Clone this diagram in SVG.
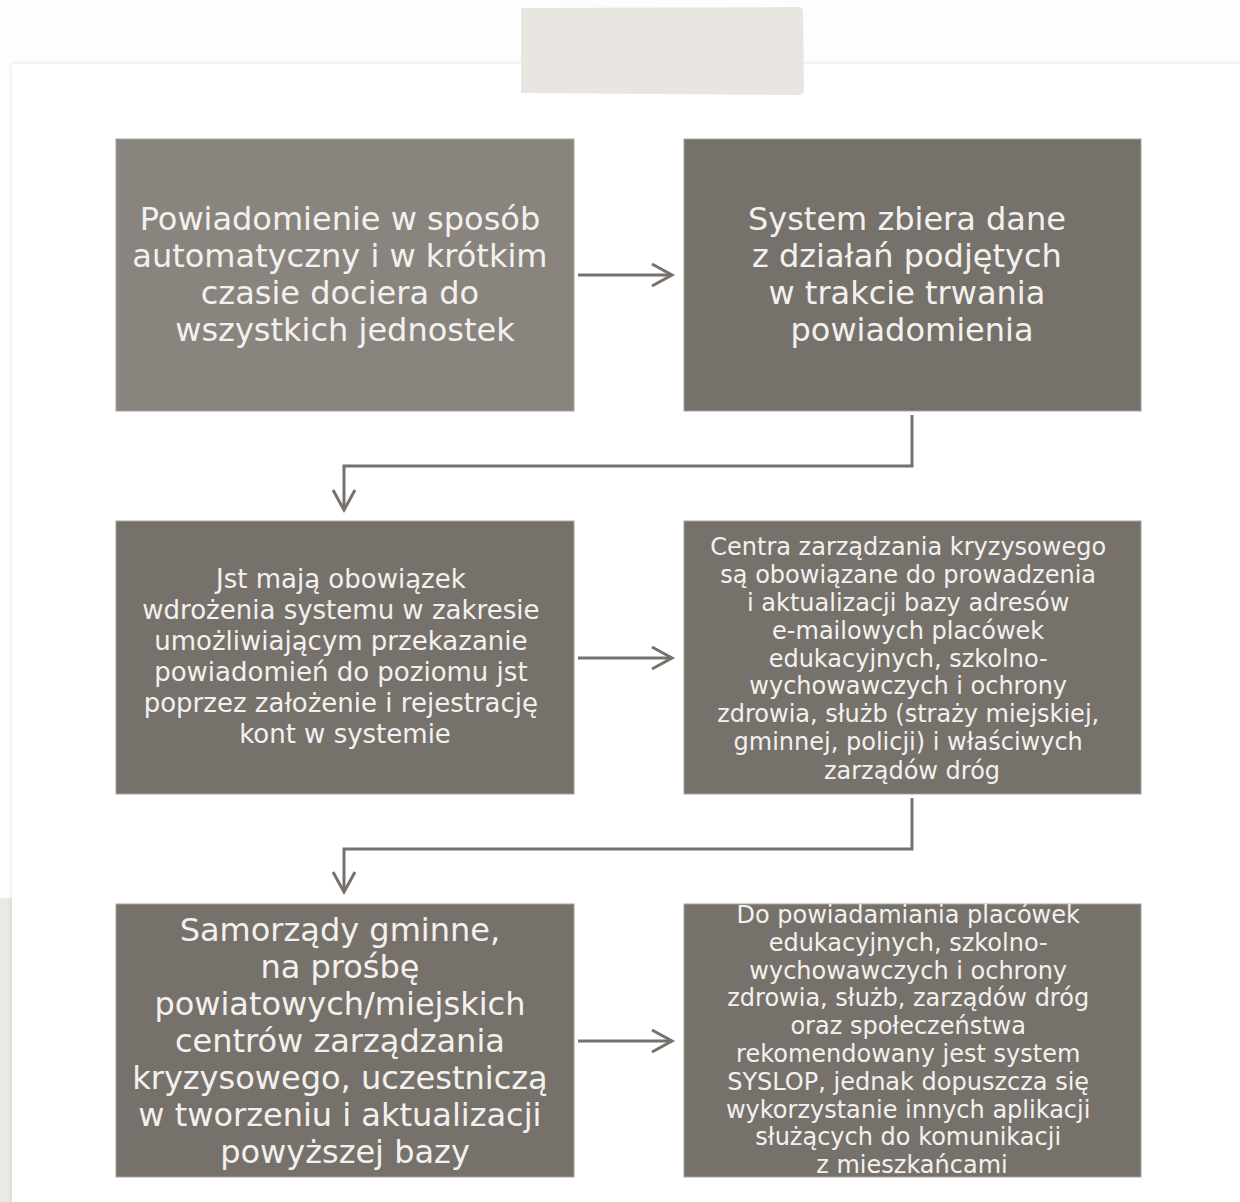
<svg xmlns="http://www.w3.org/2000/svg" width="1240" height="1202" viewBox="0 0 1240 1202">
  <defs>
    <marker id="chev" markerUnits="userSpaceOnUse" viewBox="-24 -14 28 28" markerWidth="28" markerHeight="28" refX="0" refY="0" orient="auto" overflow="visible">
      <path d="M-20,-11 L0,0 L-20,11" fill="none" stroke="#77716b" stroke-width="3" stroke-linejoin="miter"/>
    </marker>
    <filter id="sh" x="-2%" y="-2%" width="104%" height="104%">
      <feDropShadow dx="0" dy="0" stdDeviation="2" flood-color="#000" flood-opacity="0.12"/>
    </filter>
  </defs>
  <style>
    .box { fill: #77716b; stroke: #a8a39e; stroke-width: 1; }
    .box1 { fill: #8a847f; }
    .t { font-family: "DejaVu Sans", "Noto Sans", sans-serif; fill: #f3f1ef; text-anchor: middle; }
    .big { font-size: 32px; }
    .mid { font-size: 26px; }
    .sm { font-size: 24px; }
    .conn { fill: none; stroke: #77716b; stroke-width: 3; marker-end: url(#chev); }
  </style>

  <rect x="0" y="0" width="1240" height="1202" fill="#fdfdfd"/>
  <rect x="0" y="898" width="13" height="304" fill="#ebe9e6"/>
  <rect x="12" y="64" width="1240" height="1160" fill="#ffffff" filter="url(#sh)"/>
  <path d="M521,8 L800,7 L803,10 L804,92 L800,95 L521,93 Z" fill="#e9e5e1"/>

  <g id="connectors">
    <path class="conn" d="M578,275 H672"/>
    <path class="conn" d="M912,415 V466 H344 V510"/>
    <path class="conn" d="M578,658 H672"/>
    <path class="conn" d="M912,798 V849 H344 V892"/>
    <path class="conn" d="M578,1041 H672"/>
  </g>

  <g id="node1">
    <rect class="box box1" x="116" y="139" width="458" height="272"/>
    <text class="t big">
      <tspan x="345" y="230">Powiadomienie w sposób</tspan>
      <tspan x="345" y="267">automatyczny i w krótkim</tspan>
      <tspan x="345" y="304">czasie dociera do</tspan>
      <tspan x="345" y="341">wszystkich jednostek</tspan>
    </text>
  </g>

  <g id="node2">
    <rect class="box" x="684" y="139" width="457" height="272"/>
    <text class="t big">
      <tspan x="912" y="230">System zbiera dane</tspan>
      <tspan x="912" y="267">z działań podjętych</tspan>
      <tspan x="912" y="304">w trakcie trwania</tspan>
      <tspan x="912" y="341">powiadomienia</tspan>
    </text>
  </g>

  <g id="node3">
    <rect class="box" x="116" y="521" width="458" height="273"/>
    <text class="t mid">
      <tspan x="345" y="588">Jst mają obowiązek</tspan>
      <tspan x="345" y="619">wdrożenia systemu w zakresie</tspan>
      <tspan x="345" y="650">umożliwiającym przekazanie</tspan>
      <tspan x="345" y="681">powiadomień do poziomu jst</tspan>
      <tspan x="345" y="712">poprzez założenie i rejestrację</tspan>
      <tspan x="345" y="743">kont w systemie</tspan>
    </text>
  </g>

  <g id="node4">
    <rect class="box" x="684" y="521" width="457" height="273"/>
    <text class="t sm">
      <tspan x="912" y="555">Centra zarządzania kryzysowego</tspan>
      <tspan x="912" y="583">są obowiązane do prowadzenia</tspan>
      <tspan x="912" y="611">i aktualizacji bazy adresów</tspan>
      <tspan x="912" y="639">e-mailowych placówek</tspan>
      <tspan x="912" y="667">edukacyjnych, szkolno-</tspan>
      <tspan x="912" y="694">wychowawczych i ochrony</tspan>
      <tspan x="912" y="722">zdrowia, służb (straży miejskiej,</tspan>
      <tspan x="912" y="750">gminnej, policji) i właściwych</tspan>
      <tspan x="912" y="779">zarządów dróg</tspan>
    </text>
  </g>

  <g id="node5">
    <rect class="box" x="116" y="904" width="458" height="273"/>
    <text class="t big">
      <tspan x="345" y="941">Samorządy gminne,</tspan>
      <tspan x="345" y="978">na prośbę</tspan>
      <tspan x="345" y="1015">powiatowych/miejskich</tspan>
      <tspan x="345" y="1052">centrów zarządzania</tspan>
      <tspan x="345" y="1089">kryzysowego, uczestniczą</tspan>
      <tspan x="345" y="1126">w tworzeniu i aktualizacji</tspan>
      <tspan x="345" y="1163">powyższej bazy</tspan>
    </text>
  </g>

  <g id="node6">
    <rect class="box" x="684" y="904" width="457" height="273"/>
    <text class="t sm">
      <tspan x="912" y="923">Do powiadamiania placówek</tspan>
      <tspan x="912" y="951">edukacyjnych, szkolno-</tspan>
      <tspan x="912" y="979">wychowawczych i ochrony</tspan>
      <tspan x="912" y="1006">zdrowia, służb, zarządów dróg</tspan>
      <tspan x="912" y="1034">oraz społeczeństwa</tspan>
      <tspan x="912" y="1062">rekomendowany jest system</tspan>
      <tspan x="912" y="1090">SYSLOP, jednak dopuszcza się</tspan>
      <tspan x="912" y="1118">wykorzystanie innych aplikacji</tspan>
      <tspan x="912" y="1145">służących do komunikacji</tspan>
      <tspan x="912" y="1173">z mieszkańcami</tspan>
    </text>
  </g>
</svg>
